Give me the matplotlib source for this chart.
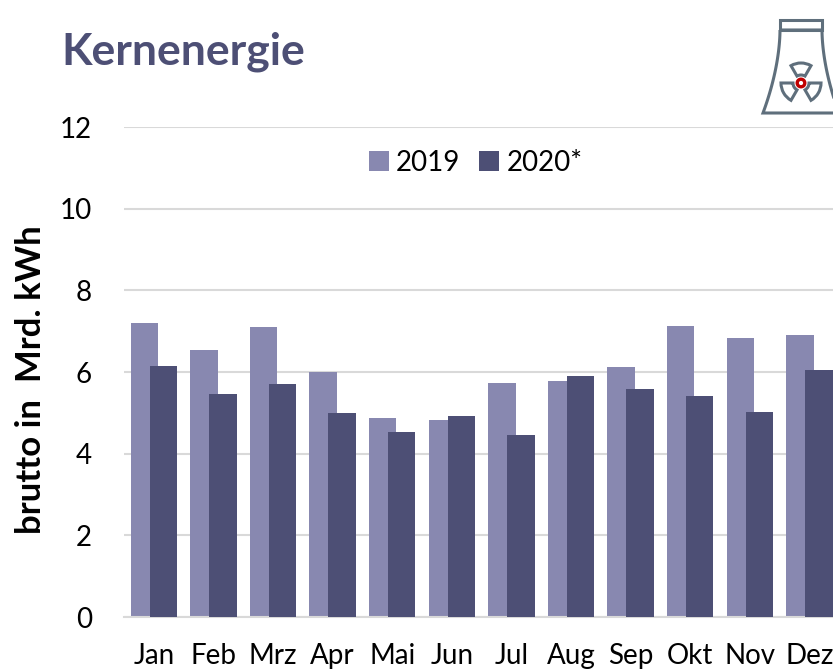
import numpy as np
import matplotlib.pyplot as plt
from matplotlib.patches import Polygon, Circle, Wedge

months = ['Jan', 'Feb', 'Mrz', 'Apr', 'Mai', 'Jun', 'Jul', 'Aug', 'Sep', 'Okt', 'Nov', 'Dez']
values_2019 = [7.2, 6.54, 7.1, 6.0, 4.87, 4.82, 5.73, 5.78, 6.12, 7.12, 6.83, 6.9]
values_2020 = [6.15, 5.46, 5.7, 5.0, 4.53, 4.92, 4.46, 5.9, 5.58, 5.41, 5.03, 6.05]
yticks = [0, 2, 4, 6, 8, 10, 12]

W, H = 833, 669
COLOR_2019 = '#8888b0'
COLOR_2020 = '#4d4f75'
ICON = '#5f6f7c'

plt.rcParams['font.family'] = ['Lato', 'DejaVu Sans']

fig = plt.figure(figsize=(W / 100, H / 100), dpi=100)
ax = fig.add_axes([124 / W, 1 - 617 / H, (W - 124) / W, 490 / H])

x = np.arange(len(months))
ax.bar(x - 0.16, values_2019, 0.46, color=COLOR_2019, label='2019', zorder=2)
ax.bar(x + 0.16, values_2020, 0.46, color=COLOR_2020, label='2020*', zorder=3)

ax.set_xlim(-0.5, (W - 124) / 59.6 - 0.5)
ax.set_ylim(0, 12)
ax.set_yticks(yticks)
ax.set_xticks(x)
ax.set_xticklabels(months, fontsize=20)
ax.tick_params(axis='x', length=0, pad=19)
ax.tick_params(axis='y', length=0, pad=23, labelsize=20)
ax.grid(axis='y', color='#d9d9d9', lw=1.5, zorder=0)
ax.set_axisbelow(True)
for side in ['top', 'right', 'left']:
    ax.spines[side].set_visible(False)
ax.spines['bottom'].set_color('#d9d9d9')
ax.spines['bottom'].set_linewidth(1.5)

ax.legend(loc='upper left', bbox_to_anchor=(0.31, 1.005), ncol=2, frameon=False, fontsize=20,
          handlelength=0.72, handleheight=0.72, handletextpad=0.26, columnspacing=0.68)

fig.text(61 / W, 1 - 52 / H, 'Kernenergie', fontsize=32, fontweight='bold', color=COLOR_2020,
         va='center', ha='left')
fig.text(31 / W, 1 - 380 / H, 'brutto in  Mrd. kWh', fontsize=25, fontweight='bold', color='black',
         rotation=90, va='center', ha='center')

# Kuehlturm-Symbol oben rechts, in Pixelkoordinaten
icon = fig.add_axes([0, 0, 1, 1], facecolor='none')
icon.set_xlim(0, W)
icon.set_ylim(H, 0)
icon.axis('off')
t = np.linspace(0, 1, 30)
left_x = 780 - 17 * t ** 1.8
right_x = 822 + 17 * t ** 1.8
tower_y = 30 + 83 * t
outline = np.column_stack([np.r_[left_x, right_x[::-1]], np.r_[tower_y, tower_y[::-1]]])
icon.add_patch(Polygon(outline, closed=True, fill=False, ec=ICON, lw=2.2))
icon.add_patch(Polygon([(780, 20), (822, 20), (822, 30), (780, 30)], closed=True, fill=False, ec=ICON, lw=2.2))
# y-Achse ist invertiert, daher 270 = oben
for angle in [270, 30, 150]:
    icon.add_patch(Wedge((801, 83), 20, angle - 30, angle + 30, width=12, fill=False, ec=ICON, lw=2.2))
icon.add_patch(Circle((801, 83), 3.8, fc='white', ec='#c00000', lw=2.4))

fig.savefig('out.png', dpi=100)
